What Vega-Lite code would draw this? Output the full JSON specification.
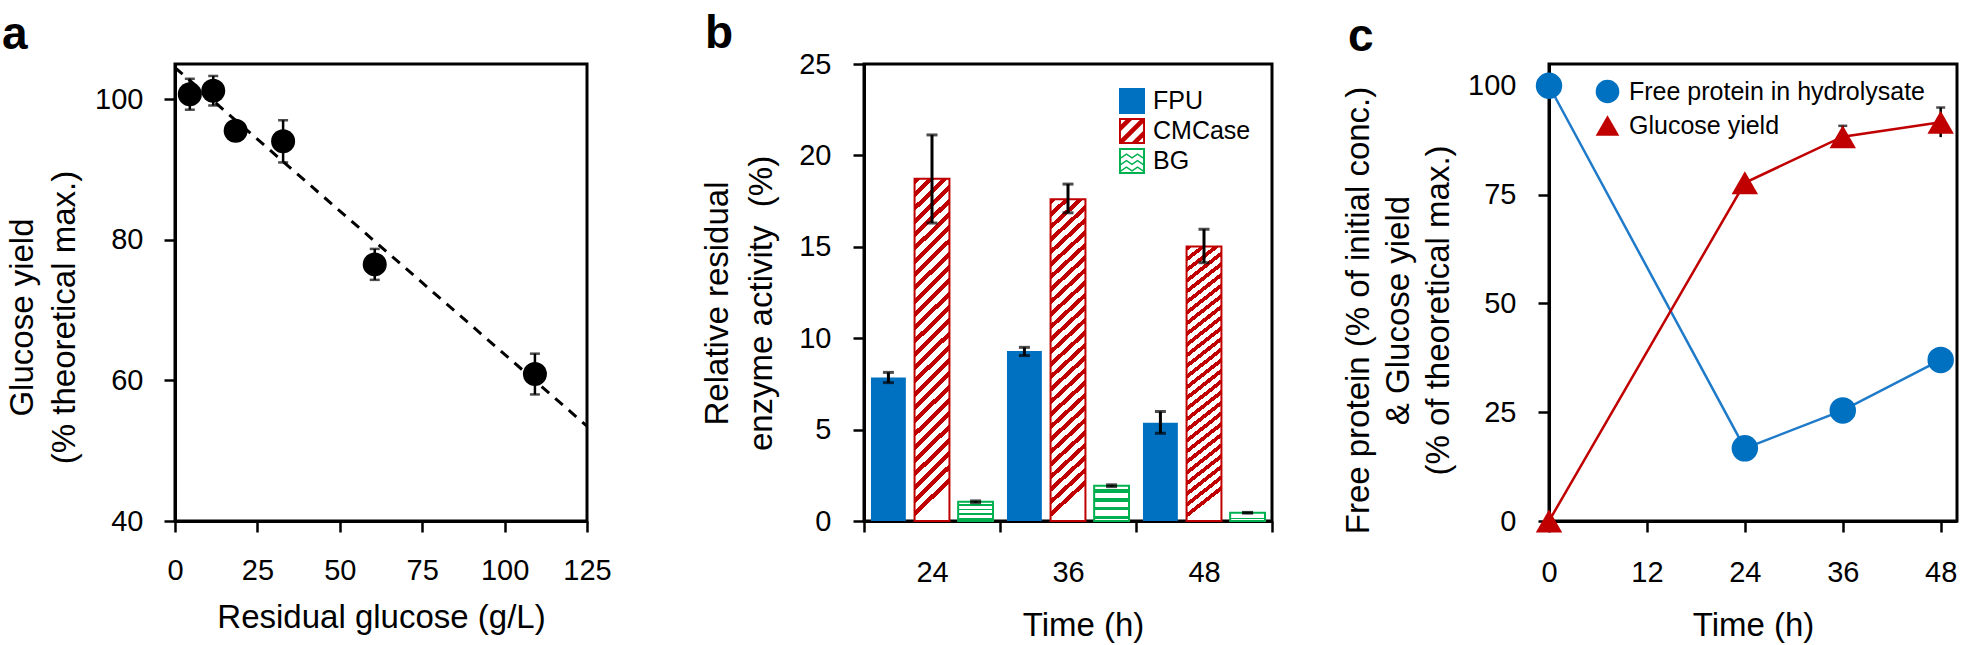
{
"$schema":"https://vega.github.io/schema/vega-lite/v6.json",
"background":"white",
"padding":{"left":0,"top":9,"right":0,"bottom":0},
"bounds":"flush",
"spacing":277,
"resolve":{"scale":{"fill":"independent","stroke":"independent","shape":"independent","color":"independent"},"legend":{"fill":"independent","stroke":"independent","shape":"independent","color":"independent"}},
"config":{
 "font":"Liberation Sans",
 "view":{"stroke":"black","strokeWidth":3},
 "axis":{"domainColor":"black","domainWidth":3,"tickColor":"black","tickWidth":2.5,"tickSize":11,"labelFont":"Liberation Sans","labelFontSize":29,"labelColor":"black","labelFlush":false,"labelOverlap":false,"labelBound":false,"titleFont":"Liberation Sans","titleFontSize":33,"titleFontWeight":"normal","titleColor":"black","grid":false},
 "legend":{"labelFont":"Liberation Sans","labelColor":"black","labelFontSize":25,"padding":0,"labelLimit":600},
 "title":{"font":"Liberation Sans","fontWeight":"bold","fontSize":46,"color":"black","anchor":"start","frame":"group","baseline":"alphabetic","offset":3}
},
"datasets":{
 "fit":[{"x":0,"y":104.5},{"x":125,"y":53.5}],
 "glc":[{"x":4.5,"y":100.7,"lo":98.5,"hi":102.9},{"x":11.6,"y":101.2,"lo":99.1,"hi":103.3},{"x":18.4,"y":95.5,"lo":94.8,"hi":96.2},{"x":32.8,"y":94.0,"lo":91.0,"hi":97.0},{"x":60.6,"y":76.5,"lo":74.3,"hi":78.7},{"x":109.2,"y":60.9,"lo":58.0,"hi":63.8}],
 "enz":[{"time":24,"enzyme":"FPU","v":7.85,"lo":7.57,"hi":8.13},{"time":24,"enzyme":"CMCase","v":18.72,"lo":16.3,"hi":21.12},{"time":24,"enzyme":"BG","v":1.05,"lo":1.0,"hi":1.1},{"time":36,"enzyme":"FPU","v":9.3,"lo":9.05,"hi":9.5},{"time":36,"enzyme":"CMCase","v":17.6,"lo":16.86,"hi":18.43},{"time":36,"enzyme":"BG","v":1.93,"lo":1.88,"hi":1.98},{"time":48,"enzyme":"FPU","v":5.38,"lo":4.8,"hi":5.99},{"time":48,"enzyme":"CMCase","v":15.02,"lo":14.13,"hi":15.96},{"time":48,"enzyme":"BG","v":0.45,"lo":0.43,"hi":0.47}],
 "ts":[{"t":0,"v":100,"s":"Free protein in hydrolysate"},{"t":24,"v":16.7,"s":"Free protein in hydrolysate"},{"t":36,"v":25.4,"s":"Free protein in hydrolysate"},{"t":48,"v":37.0,"s":"Free protein in hydrolysate"},{"t":0,"v":0,"s":"Glucose yield"},{"t":24,"v":77.7,"s":"Glucose yield"},{"t":36,"v":88.3,"s":"Glucose yield"},{"t":48,"v":91.6,"s":"Glucose yield"}],
 "errc":[{"t":36,"lo":85.8,"hi":90.8},{"t":48,"lo":88.2,"hi":95.0}]
},
"hconcat":[
 {
  "width":412,"height":457,
  "title":{"text":"a","dx":-173},
  "layer":[
   {"data":{"name":"fit"},"mark":{"type":"line","color":"black","strokeWidth":3,"strokeDash":[10,8]},
    "encoding":{
     "x":{"field":"x","type":"quantitative","scale":{"domain":[0,125],"nice":false},"axis":{"values":[0,25,50,75,100,125],"title":"Residual glucose (g/L)","labelPadding":24,"titlePadding":16}},
     "y":{"field":"y","type":"quantitative","scale":{"domain":[40,105],"nice":false,"zero":false},"axis":{"values":[40,60,80,100],"title":["Glucose yield","(% theoretical max.)"],"labelPadding":21,"titleX":-143,"titleY":253,"titleBaseline":"alphabetic","titleLineHeight":42,"titleAngle":-90}}}},
   {"data":{"name":"glc"},"mark":{"type":"rule","color":"black","strokeWidth":2.5},"encoding":{"x":{"field":"x","type":"quantitative"},"y":{"field":"lo","type":"quantitative"},"y2":{"field":"hi"}}},
   {"data":{"name":"glc"},"mark":{"type":"tick","orient":"horizontal","color":"black","thickness":2.5,"size":10},"encoding":{"x":{"field":"x","type":"quantitative"},"y":{"field":"lo","type":"quantitative"}}},
   {"data":{"name":"glc"},"mark":{"type":"tick","orient":"horizontal","color":"black","thickness":2.5,"size":10},"encoding":{"x":{"field":"x","type":"quantitative"},"y":{"field":"hi","type":"quantitative"}}},
   {"data":{"name":"glc"},"mark":{"type":"point","shape":"circle","filled":true,"color":"black","opacity":1,"size":576},"encoding":{"x":{"field":"x","type":"quantitative"},"y":{"field":"y","type":"quantitative"}}}
  ]
 },
 {
  "width":408,"height":457,
  "title":{"text":"b","dx":-159,"dy":11},
  "data":{"name":"enz"},
  "encoding":{
   "x":{"field":"time","type":"ordinal","scale":{"paddingInner":0,"paddingOuter":0},"axis":{"title":"Time (h)","labelAngle":0,"tickBand":"extent","labelPadding":26,"titleX":219,"titlePadding":22}},
   "xOffset":{"field":"enzyme","type":"nominal","scale":{"domain":["FPU","CMCase","BG"],"paddingInner":0.2,"paddingOuter":0.16}}
  },
  "layer":[
   {"transform":[{"filter":"datum.enzyme === 'FPU'"}],"mark":{"type":"bar","fill":"#0070C0","strokeWidth":0},
    "encoding":{
     "y":{"field":"v","type":"quantitative","scale":{"domain":[0,25],"nice":false},"axis":{"values":[0,5,10,15,20,25],"title":["Relative residual","enzyme activity\u00a0 (%)"],"labelPadding":22,"titleX":-137,"titleY":239,"titleBaseline":"alphabetic","titleLineHeight":44,"titleAngle":-90}}}},
   {"transform":[{"filter":"datum.enzyme === 'CMCase'"}],
    "mark":{"type":"bar","stroke":"#C00000","strokeWidth":2,"fill":{"gradient":"linear","x1":0,"y1":0,"x2":0.1,"y2":1,"stops":[
{"offset":0,"color":"#C00000"},{"offset":0.0173,"color":"#C00000"},{"offset":0.0173,"color":"#ffffff"},{"offset":0.0385,"color":"#ffffff"},
{"offset":0.0385,"color":"#C00000"},{"offset":0.0558,"color":"#C00000"},{"offset":0.0558,"color":"#ffffff"},{"offset":0.0769,"color":"#ffffff"},
{"offset":0.0769,"color":"#C00000"},{"offset":0.0942,"color":"#C00000"},{"offset":0.0942,"color":"#ffffff"},{"offset":0.1154,"color":"#ffffff"},
{"offset":0.1154,"color":"#C00000"},{"offset":0.1327,"color":"#C00000"},{"offset":0.1327,"color":"#ffffff"},{"offset":0.1538,"color":"#ffffff"},
{"offset":0.1538,"color":"#C00000"},{"offset":0.1712,"color":"#C00000"},{"offset":0.1712,"color":"#ffffff"},{"offset":0.1923,"color":"#ffffff"},
{"offset":0.1923,"color":"#C00000"},{"offset":0.2096,"color":"#C00000"},{"offset":0.2096,"color":"#ffffff"},{"offset":0.2308,"color":"#ffffff"},
{"offset":0.2308,"color":"#C00000"},{"offset":0.2481,"color":"#C00000"},{"offset":0.2481,"color":"#ffffff"},{"offset":0.2692,"color":"#ffffff"},
{"offset":0.2692,"color":"#C00000"},{"offset":0.2865,"color":"#C00000"},{"offset":0.2865,"color":"#ffffff"},{"offset":0.3077,"color":"#ffffff"},
{"offset":0.3077,"color":"#C00000"},{"offset":0.3250,"color":"#C00000"},{"offset":0.3250,"color":"#ffffff"},{"offset":0.3462,"color":"#ffffff"},
{"offset":0.3462,"color":"#C00000"},{"offset":0.3635,"color":"#C00000"},{"offset":0.3635,"color":"#ffffff"},{"offset":0.3846,"color":"#ffffff"},
{"offset":0.3846,"color":"#C00000"},{"offset":0.4019,"color":"#C00000"},{"offset":0.4019,"color":"#ffffff"},{"offset":0.4231,"color":"#ffffff"},
{"offset":0.4231,"color":"#C00000"},{"offset":0.4404,"color":"#C00000"},{"offset":0.4404,"color":"#ffffff"},{"offset":0.4615,"color":"#ffffff"},
{"offset":0.4615,"color":"#C00000"},{"offset":0.4788,"color":"#C00000"},{"offset":0.4788,"color":"#ffffff"},{"offset":0.5000,"color":"#ffffff"},
{"offset":0.5000,"color":"#C00000"},{"offset":0.5173,"color":"#C00000"},{"offset":0.5173,"color":"#ffffff"},{"offset":0.5385,"color":"#ffffff"},
{"offset":0.5385,"color":"#C00000"},{"offset":0.5558,"color":"#C00000"},{"offset":0.5558,"color":"#ffffff"},{"offset":0.5769,"color":"#ffffff"},
{"offset":0.5769,"color":"#C00000"},{"offset":0.5942,"color":"#C00000"},{"offset":0.5942,"color":"#ffffff"},{"offset":0.6154,"color":"#ffffff"},
{"offset":0.6154,"color":"#C00000"},{"offset":0.6327,"color":"#C00000"},{"offset":0.6327,"color":"#ffffff"},{"offset":0.6538,"color":"#ffffff"},
{"offset":0.6538,"color":"#C00000"},{"offset":0.6712,"color":"#C00000"},{"offset":0.6712,"color":"#ffffff"},{"offset":0.6923,"color":"#ffffff"},
{"offset":0.6923,"color":"#C00000"},{"offset":0.7096,"color":"#C00000"},{"offset":0.7096,"color":"#ffffff"},{"offset":0.7308,"color":"#ffffff"},
{"offset":0.7308,"color":"#C00000"},{"offset":0.7481,"color":"#C00000"},{"offset":0.7481,"color":"#ffffff"},{"offset":0.7692,"color":"#ffffff"},
{"offset":0.7692,"color":"#C00000"},{"offset":0.7865,"color":"#C00000"},{"offset":0.7865,"color":"#ffffff"},{"offset":0.8077,"color":"#ffffff"},
{"offset":0.8077,"color":"#C00000"},{"offset":0.8250,"color":"#C00000"},{"offset":0.8250,"color":"#ffffff"},{"offset":0.8462,"color":"#ffffff"},
{"offset":0.8462,"color":"#C00000"},{"offset":0.8635,"color":"#C00000"},{"offset":0.8635,"color":"#ffffff"},{"offset":0.8846,"color":"#ffffff"},
{"offset":0.8846,"color":"#C00000"},{"offset":0.9019,"color":"#C00000"},{"offset":0.9019,"color":"#ffffff"},{"offset":0.9231,"color":"#ffffff"},
{"offset":0.9231,"color":"#C00000"},{"offset":0.9404,"color":"#C00000"},{"offset":0.9404,"color":"#ffffff"},{"offset":0.9615,"color":"#ffffff"},
{"offset":0.9615,"color":"#C00000"},{"offset":0.9788,"color":"#C00000"},{"offset":0.9788,"color":"#ffffff"},{"offset":1,"color":"#ffffff"}]}},
    "encoding":{"y":{"field":"v","type":"quantitative"}}},
   {"transform":[{"filter":"datum.enzyme === 'BG'"}],
    "mark":{"type":"bar","stroke":"#00B050","strokeWidth":2,"fill":{"gradient":"linear","x1":0,"y1":0,"x2":0,"y2":1,"stops":[
{"offset":0,"color":"#ffffff"},{"offset":0.1,"color":"#ffffff"},{"offset":0.1,"color":"#00B050"},{"offset":0.2,"color":"#00B050"},{"offset":0.2,"color":"#ffffff"},{"offset":0.35,"color":"#ffffff"},{"offset":0.35,"color":"#00B050"},{"offset":0.45,"color":"#00B050"},{"offset":0.45,"color":"#ffffff"},{"offset":0.6,"color":"#ffffff"},{"offset":0.6,"color":"#00B050"},{"offset":0.7,"color":"#00B050"},{"offset":0.7,"color":"#ffffff"},{"offset":0.85,"color":"#ffffff"},{"offset":0.85,"color":"#00B050"},{"offset":0.95,"color":"#00B050"},{"offset":0.95,"color":"#ffffff"},{"offset":1,"color":"#ffffff"}]}},
    "encoding":{"y":{"field":"v","type":"quantitative"}}},
   {"mark":{"type":"rule","color":"black","strokeWidth":3},"encoding":{"y":{"field":"lo","type":"quantitative"},"y2":{"field":"hi"}}},
   {"mark":{"type":"tick","orient":"horizontal","color":"black","thickness":3,"size":11},"encoding":{"y":{"field":"lo","type":"quantitative"}}},
   {"mark":{"type":"tick","orient":"horizontal","color":"black","thickness":3,"size":11},"encoding":{"y":{"field":"hi","type":"quantitative"}}},
   {"mark":{"type":"point","filled":true,"opacity":0,"size":10},
    "encoding":{
     "y":{"field":"v","type":"quantitative"},
     "fill":{"field":"enzyme","type":"nominal","scale":{"domain":["FPU","CMCase","BG"],"range":["#0070C0","#C00000","#00B050"]},
      "legend":{"orient":"none","legendX":255,"legendY":24,"title":null,"symbolSize":676,"labelFontSize":25,"rowPadding":4,"labelOffset":8,"symbolStrokeWidth":0,"symbolOpacity":1}},
     "shape":{"field":"enzyme","type":"nominal","scale":{"domain":["FPU","CMCase","BG"],"range":["square","M-1,-1H1V1H-1Z M-0.85,-0.85V0.85H0.85V-0.85Z M-0.85,0.6L0.6,-0.85L0.85,-0.85L0.85,-0.6L-0.6,0.85L-0.85,0.85Z M-0.85,-0.5L-0.5,-0.85L0,-0.85L-0.85,0Z M0,0.85L0.85,0L0.85,0.5L0.5,0.85Z","M-1,-1H1V1H-1Z M-0.85,-0.85V0.85H0.85V-0.85Z M-0.85,-0.3L-0.425,-0.6L0,-0.3L0.425,-0.6L0.85,-0.3L0.85,-0.17L0.425,-0.47L0,-0.17L-0.425,-0.47L-0.85,-0.17Z M-0.85,0.2L-0.425,-0.1L0,0.2L0.425,-0.1L0.85,0.2L0.85,0.33L0.425,0.03L0,0.33L-0.425,0.03L-0.85,0.33Z M-0.85,0.7L-0.425,0.4L0,0.7L0.425,0.4L0.85,0.7L0.85,0.83L0.425,0.53L0,0.83L-0.425,0.53L-0.85,0.83Z"]},
      "legend":{"orient":"none","legendX":255,"legendY":24,"title":null,"symbolSize":676,"labelFontSize":25,"rowPadding":4,"labelOffset":8,"symbolStrokeWidth":0,"symbolOpacity":1}}}}
  ]
 },
 {
  "width":408,"height":457,
  "title":{"text":"c","dx":-201},
  "layer":[
   {"data":{"name":"ts"},"mark":{"type":"line","strokeWidth":2.5},
    "encoding":{
     "x":{"field":"t","type":"quantitative","scale":{"domain":[0,50],"nice":false},"axis":{"values":[0,12,24,36,48],"title":"Time (h)","labelPadding":26,"titlePadding":22}},
     "y":{"field":"v","type":"quantitative","scale":{"domain":[0,105],"nice":false},"axis":{"values":[0,25,50,75,100],"title":["Free protein (% of initial conc.)","& Glucose yield","(% of theoretical max.)"],"labelPadding":22,"titleX":-181,"titleY":246,"titleBaseline":"alphabetic","titleLineHeight":40,"titleAngle":-90}},
     "detail":{"field":"s","type":"nominal"},
     "stroke":{"condition":{"test":"datum.s === 'Glucose yield'","value":"#C00000"},"value":"#1F7BC9"}}},
   {"data":{"name":"errc"},"mark":{"type":"rule","color":"black","strokeWidth":2.5},"encoding":{"x":{"field":"t","type":"quantitative"},"y":{"field":"lo","type":"quantitative"},"y2":{"field":"hi"}}},
   {"data":{"name":"errc"},"mark":{"type":"tick","orient":"horizontal","color":"black","thickness":2.5,"size":9},"encoding":{"x":{"field":"t","type":"quantitative"},"y":{"field":"hi","type":"quantitative"}}},
   {"data":{"name":"ts"},"mark":{"type":"point","filled":true,"opacity":1,"size":700},
    "encoding":{
     "x":{"field":"t","type":"quantitative"},
     "y":{"field":"v","type":"quantitative"},
     "fill":{"field":"s","type":"nominal","scale":{"domain":["Free protein in hydrolysate","Glucose yield"],"range":["#0070C0","#C00000"]},"legend":{"orient":"none","legendX":46,"legendY":15,"title":null,"symbolSize":560,"labelFontSize":25,"rowPadding":8,"labelOffset":9,"symbolStrokeWidth":0,"labelLimit":600}},
     "shape":{"field":"s","type":"nominal","scale":{"domain":["Free protein in hydrolysate","Glucose yield"],"range":["circle","triangle-up"]},"legend":{"orient":"none","legendX":46,"legendY":15,"title":null,"symbolSize":560,"labelFontSize":25,"rowPadding":8,"labelOffset":9,"symbolStrokeWidth":0,"labelLimit":600}}}}
  ]
 }
]
}
